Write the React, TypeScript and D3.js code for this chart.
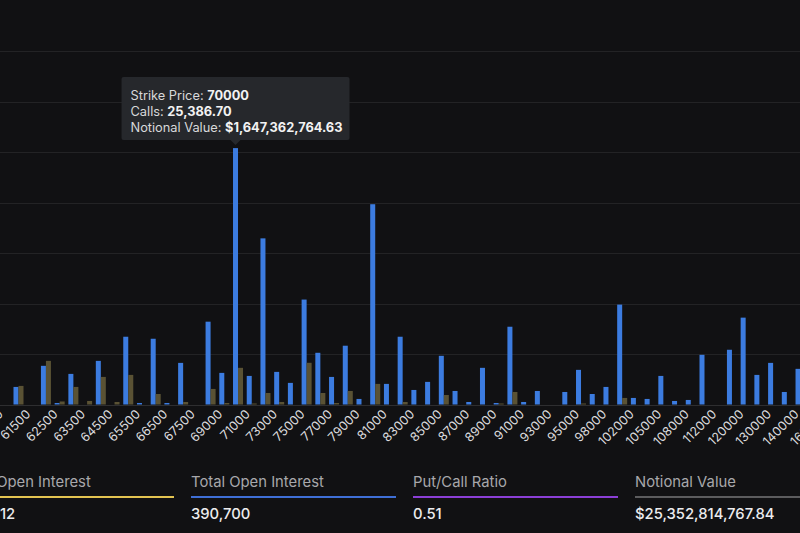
import React from "react";
import * as d3 from "d3";

// Strike prices (BTC options) and open interest per strike, in contracts
const strikes: number[] = [
  60500, 61000, 61500, 62000, 62500, 63000, 63500, 64000, 64500, 65000,
  65500, 66000, 66500, 67000, 67500, 68000, 69000, 70000, 71000, 72000,
  73000, 74000, 75000, 76000, 77000, 78000, 79000, 80000, 81000, 82000,
  83000, 84000, 85000, 86000, 87000, 88000, 89000, 90000, 91000, 92000,
  93000, 94000, 95000, 96000, 98000, 100000, 102000, 104000, 105000, 106000,
  108000, 110000, 112000, 115000, 120000, 125000, 130000, 135000, 140000, 150000,
  160000,
];

const calls: number[] = [
  0, 1740, 0, 3830, 150, 3030, 0, 4320, 0, 6710,
  150, 6510, 150, 4120, 0, 8200, 3130, 25386.7, 2830, 16450,
  3230, 2140, 10390, 5120, 2730, 5820, 550, 19830, 2040, 6710,
  1440, 2240, 4820, 1340, 250, 3630, 150, 7700, 250, 1340,
  0, 1240, 3430, 1040, 1740, 9890, 650, 550, 2830, 350,
  450, 4920, 0, 5420, 8600, 2930, 4120, 1240, 3530, 6200,
  2100,
];

const puts: number[] = [
  0, 1840, 0, 4320, 300, 1740, 350, 2730, 250, 2930,
  0, 1040, 0, 250, 0, 1540, 150, 3630, 100, 1140,
  250, 0, 4130, 1140, 150, 1340, 0, 2040, 0, 250,
  0, 0, 940, 0, 0, 0, 100, 1240, 0, 0,
  0, 0, 100, 0, 0, 650, 0, 0, 0, 0,
  0, 0, 0, 0, 0, 0, 0, 0, 0, 0,
  0,
];

const yTicks: number[] = [0, 5000, 10000, 15000, 20000, 25000, 30000, 35000];

// Hovered strike shown in the tooltip
const hoverStrike = 70000;
const hoverNotional = "$1,647,362,764.63";

// Summary row under the chart
const statLabels: string[] = ["Put Open Interest", "Total Open Interest", "Put/Call Ratio", "Notional Value"];
const statValues: string[] = ["131,112", "390,700", "0.51", "$25,352,814,767.84"];
const statColors: string[] = ["#e3c451", "#3f6fd6", "#8b3fd6", "#5c5c5e"];

const W = 800;
const H = 533;
const FONT = "Inter, 'Noto Sans', sans-serif";

export default function App() {
  const step = 13.72;
  const r0 = 4.78 - step / 2;
  const x = d3
    .scaleBand<number>()
    .domain(strikes)
    .range([r0, r0 + step * strikes.length])
    .paddingInner(0.27)
    .paddingOuter(0.135);
  const sub = d3
    .scaleBand<string>()
    .domain(["calls", "puts"])
    .range([0, x.bandwidth()]);
  const y = d3.scaleLinear().domain([0, 35000]).range([404.5, 51]);

  const hi = strikes.indexOf(hoverStrike);
  const hx = (x(hoverStrike) ?? 0) + (sub("calls") ?? 0) + sub.bandwidth() / 2;
  const hy = y(calls[hi]);
  const tipW = 228;
  const tipH = 63;
  const tipX = hx - tipW / 2;
  const tipY = hy - 8 - tipH;

  const fmtCalls = d3.format(",.2f");

  return (
    <svg
      width={W}
      height={H}
      style={{ position: "absolute", left: 0, top: 0, background: "#111113", fontFamily: FONT }}
    >
      <rect x={0} y={0} width={W} height={H} fill="#111113" />

      {/* horizontal grid */}
      {yTicks.map((t) => (
        <line
          key={t}
          x1={0}
          x2={W}
          y1={Math.round(y(t)) + 0.5}
          y2={Math.round(y(t)) + 0.5}
          stroke={t === 0 ? "#2e2e30" : "#232325"}
          strokeWidth={1}
        />
      ))}

      {/* bars */}
      {strikes.map((s, i) => {
        const bx = x(s) ?? 0;
        return (
          <g key={s}>
            {calls[i] > 0 && (
              <rect
                x={bx + (sub("calls") ?? 0)}
                y={y(calls[i])}
                width={sub.bandwidth()}
                height={y(0) - y(calls[i])}
                fill="#3c7ce0"
              />
            )}
            {puts[i] > 0 && (
              <rect
                x={bx + (sub("puts") ?? 0)}
                y={y(puts[i])}
                width={sub.bandwidth()}
                height={y(0) - y(puts[i])}
                fill="#5a5234"
              />
            )}
          </g>
        );
      })}

      {/* x-axis labels, every other strike */}
      {strikes.map((s, i) =>
        i % 2 === 0 ? (
          <text
            key={s}
            transform={`translate(${(x(s) ?? 0) + x.bandwidth() / 2 - 1},${415}) rotate(-45)`}
            textAnchor="end"
            fontSize={12.5}
            fill="#dcdcde"
          >
            {s}
          </text>
        ) : null
      )}

      {/* tooltip */}
      <g>
        <rect x={tipX} y={tipY} width={tipW} height={tipH} rx={2} fill="#26282c" />
        <path
          d={`M${hx - 5},${tipY + tipH} L${hx},${tipY + tipH + 5} L${hx + 5},${tipY + tipH} Z`}
          fill="#26282c"
        />
        <text x={tipX + 9} y={tipY + 22.5} fontSize={12.8} fill="#d8d8da">
          Strike Price: <tspan fontWeight={700} fill="#f2f2f2">{hoverStrike}</tspan>
        </text>
        <text x={tipX + 9} y={tipY + 38.5} fontSize={12.8} fill="#d8d8da">
          Calls: <tspan fontWeight={700} fill="#f2f2f2">{fmtCalls(calls[hi])}</tspan>
        </text>
        <text x={tipX + 9} y={tipY + 54.5} fontSize={12.8} fill="#d8d8da">
          Notional Value: <tspan fontWeight={700} fill="#f2f2f2">{hoverNotional}</tspan>
        </text>
      </g>

      {/* summary row */}
      {statLabels.map((lab, i) => {
        const cx = -31 + i * 222;
        return (
          <g key={lab}>
            <text x={cx} y={487} fontSize={14.8} fill="#a8a8ab">
              {lab}
            </text>
            <line x1={cx} x2={cx + 205} y1={497} y2={497} stroke={statColors[i]} strokeWidth={2} />
            <text x={cx} y={519} fontSize={14.8} fill="#ececee" fontWeight={500}>
              {statValues[i]}
            </text>
          </g>
        );
      })}
    </svg>
  );
}
